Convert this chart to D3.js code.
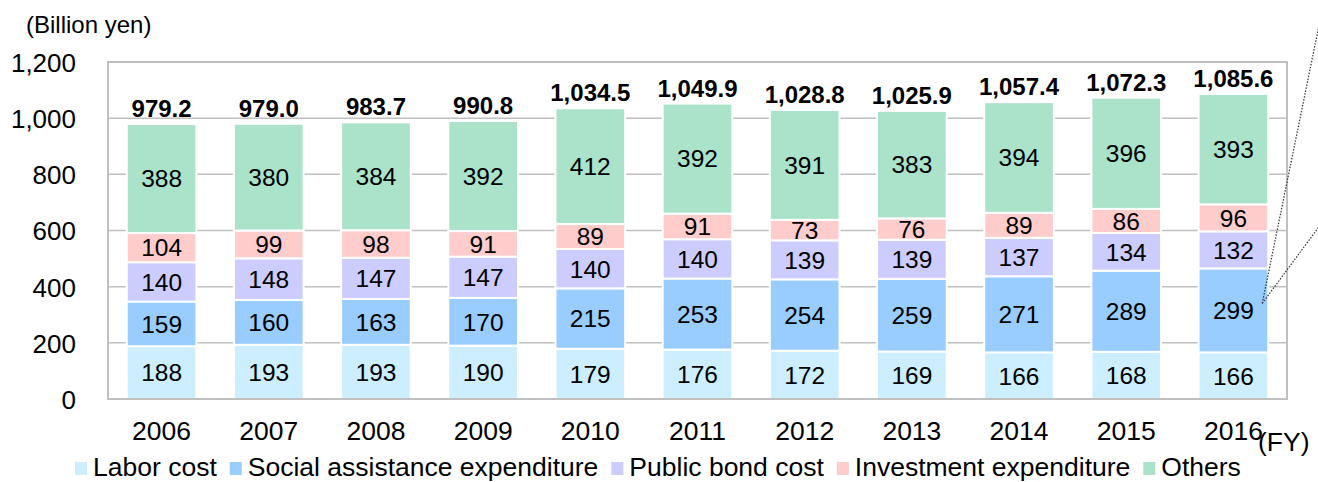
<!DOCTYPE html>
<html>
<head>
<meta charset="utf-8">
<script src="https://cdn.jsdelivr.net/npm/d3@7"></script>
<style>
  html, body { margin: 0; padding: 0; background: #fff; }
  svg { display: block; font-family: "Liberation Sans", Arial, sans-serif; }
</style>
</head>
<body>
<svg id="chart" width="1318" height="482"></svg>
<script>
const years = ["2006","2007","2008","2009","2010","2011","2012","2013","2014","2015","2016"];
const seriesNames = ["Labor cost","Social assistance expenditure","Public bond cost","Investment expenditure","Others"];
const laborCost = [188,193,193,190,179,176,172,169,166,168,166];
const socialAssistance = [159,160,163,170,215,253,254,259,271,289,299];
const publicBond = [140,148,147,147,140,140,139,139,137,134,132];
const investment = [104,99,98,91,89,91,73,76,89,86,96];
const others = [388,380,384,392,412,392,391,383,394,396,393];
const totals = ["979.2","979.0","983.7","990.8","1,034.5","1,049.9","1,028.8","1,025.9","1,057.4","1,072.3","1,085.6"];
const yTicks = [0,200,400,600,800,1000,1200];
const colors = ["#cceeff","#99ccff","#ccccff","#ffcccc","#aae2ca"];

const seriesValues = [laborCost, socialAssistance, publicBond, investment, others];
const table = years.map((yr, i) => {
  const row = { year: yr };
  seriesNames.forEach((s, k) => row[s] = seriesValues[k][i]);
  return row;
});
const stacked = d3.stack().keys(seriesNames)(table);

const svg = d3.select("#chart");
const pL = 108, pR = 1287, pT = 62, pB = 399;
const x = d3.scaleBand().domain(years).range([pL, pR]).paddingInner(0.35).paddingOuter(0.175);
const y = d3.scaleLinear().domain([0, 1200]).range([pB, pT]);

// gridlines
svg.append("g").selectAll("line").data(yTicks.filter(t => t > 0 && t < 1200)).join("line")
  .attr("x1", pL).attr("x2", pR)
  .attr("y1", d => y(d)).attr("y2", d => y(d))
  .attr("stroke", "#c0c0c0").attr("stroke-width", 1.5);

// bars
const layers = svg.append("g").selectAll("g").data(stacked).join("g")
  .attr("fill", (d, i) => colors[i]);
layers.selectAll("rect").data(d => d).join("rect")
  .attr("x", d => x(d.data.year))
  .attr("width", x.bandwidth())
  .attr("y", d => y(d[1]))
  .attr("height", d => y(d[0]) - y(d[1]))
  .attr("stroke", "#ffffff").attr("stroke-width", 2);

// frame
svg.append("rect").attr("x", pL).attr("y", pT)
  .attr("width", pR - pL).attr("height", pB - pT)
  .attr("fill", "none").attr("stroke", "#c0c0c0").attr("stroke-width", 2);

// segment labels
stacked.forEach(layer => {
  svg.append("g").selectAll("text").data(layer).join("text")
    .attr("x", d => x(d.data.year) + x.bandwidth() / 2)
    .attr("y", d => (y(d[0]) + y(d[1])) / 2)
    .attr("dy", "0.36em")
    .attr("text-anchor", "middle")
    .attr("font-size", 24.5)
    .attr("fill", "#000")
    .text(d => d[1] - d[0]);
});

// totals
svg.append("g").selectAll("text").data(stacked[stacked.length - 1]).join("text")
  .attr("x", d => x(d.data.year) + x.bandwidth() / 2)
  .attr("y", d => y(d[1]) - 7)
  .attr("text-anchor", "middle")
  .attr("font-size", 24).attr("font-weight", "bold")
  .text((d, i) => totals[i]);

// y axis
const yAxis = d3.axisLeft(y).tickValues(yTicks).tickSize(0).tickPadding(0)
  .tickFormat(d3.format(","));
const gy = svg.append("g").attr("transform", "translate(76,0)").call(yAxis);
gy.select(".domain").remove();
gy.selectAll("text").attr("font-size", 26).attr("font-family", "Liberation Sans, Arial, sans-serif")
  .attr("fill", "#000").attr("dy", "0.36em");

// x axis
const xAxis = d3.axisBottom(x).tickSize(0).tickPadding(0);
const gx = svg.append("g").attr("transform", `translate(0,${pB})`).call(xAxis);
gx.select(".domain").remove();
gx.selectAll("text").attr("font-size", 26.5).attr("font-family", "Liberation Sans, Arial, sans-serif")
  .attr("fill", "#000").attr("dy", "0").attr("y", 40.5);

// titles
svg.append("text").attr("x", 26).attr("y", 33).attr("font-size", 24).text("(Billion yen)");
svg.append("text").attr("x", 1258).attr("y", 451).attr("font-size", 26.5).text("(FY)");

// callout dotted lines
const bx = x("2016") + x.bandwidth() - 6;
const by = y(laborCost[10] + socialAssistance[10] / 2) - 7;
svg.append("g").selectAll("line").data([[1324, 1], [1324, 220]]).join("line")
  .attr("x1", bx).attr("y1", by)
  .attr("x2", d => d[0]).attr("y2", d => d[1])
  .attr("stroke", "#333").attr("stroke-width", 1.2).attr("stroke-dasharray", "1.5,1.5");

// legend
const legend = svg.append("g");
let lx = 75;
seriesNames.forEach((name, i) => {
  legend.append("rect").attr("x", lx).attr("y", 462).attr("width", 12).attr("height", 13).attr("fill", colors[i]);
  const t = legend.append("text").attr("x", lx + 18).attr("y", 476).attr("font-size", 26.5).text(name);
  lx += 18 + t.node().getComputedTextLength() + 13;
});
</script>
</body>
</html>
